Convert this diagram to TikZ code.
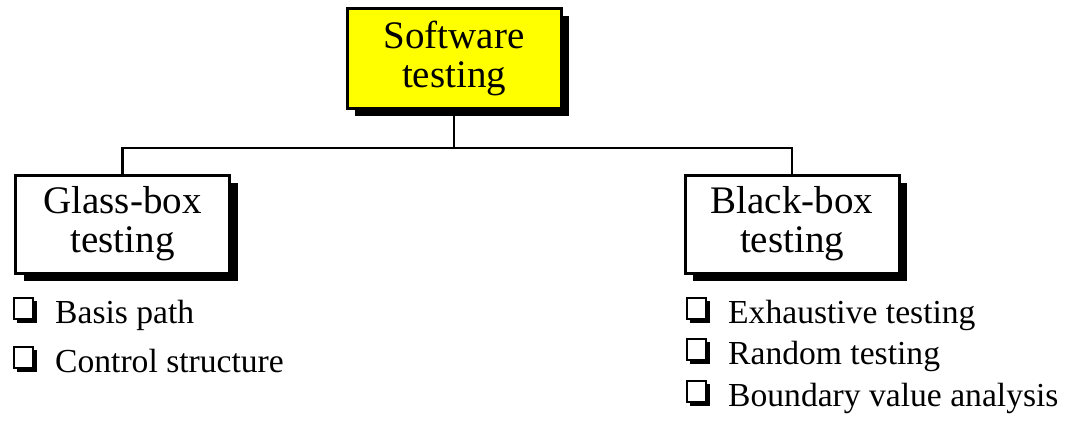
\documentclass[tikz,border=0pt]{standalone}
\usepackage{fontspec}
\setmainfont{Liberation Serif}
\usetikzlibrary{shadows}
\definecolor{boxyellow}{RGB}{255,255,0}
\tikzset{
  tbox/.style={draw=black, line width=3pt, fill=white, minimum width=214pt, minimum height=98pt,
    align=center, inner sep=0pt, font=\fontsize{39}{39}\selectfont,
    drop shadow={shadow xshift=8pt, shadow yshift=-8pt, fill=black, opacity=1}},
  conn/.style={line width=2.5pt},
  item/.style={anchor=base west, inner sep=0pt, font=\fontsize{33.6}{38}\selectfont},
}
\newcommand{\chk}[2]{%
  \fill[black] (#1+4,#2-22) rectangle (#1+24,#2);
  \filldraw[fill=white, draw=black, line width=1.5pt] (#1+0.75,#2-25.25) rectangle (#1+20,#2-4);
}
\begin{document}
\begin{tikzpicture}[x=1pt,y=-1pt]
\useasboundingbox (0,0) rectangle (1066,423);
\node[tbox, fill=boxyellow, minimum height=100pt] (sw) at (454,58) {Software\\testing};
\node[tbox] (gb) at (122.5,224) {Glass-box\\testing};
\node[tbox] (bb) at (792,224) {Black-box\\testing};
\coordinate (hy) at (0,148);
\draw[conn] (sw.south) -- (sw.south |- hy);
\draw[conn] (gb.north) |- (sw.south |- hy) -| (bb.north);
% items
\chk{13}{323}
\chk{13}{372}
\chk{686}{323}
\chk{686}{364}
\chk{686}{406}
\node[item] (i1) at (55,323) {Basis path};
\node[item] (i2) at (55,372) {Control structure};
\node[item] (i3) at (728,323) {Exhaustive testing};
\node[item] (i4) at (728,364) {Random testing};
\node[item] (i5) at (728,406) {Boundary value analysis};
\end{tikzpicture}
\end{document}
